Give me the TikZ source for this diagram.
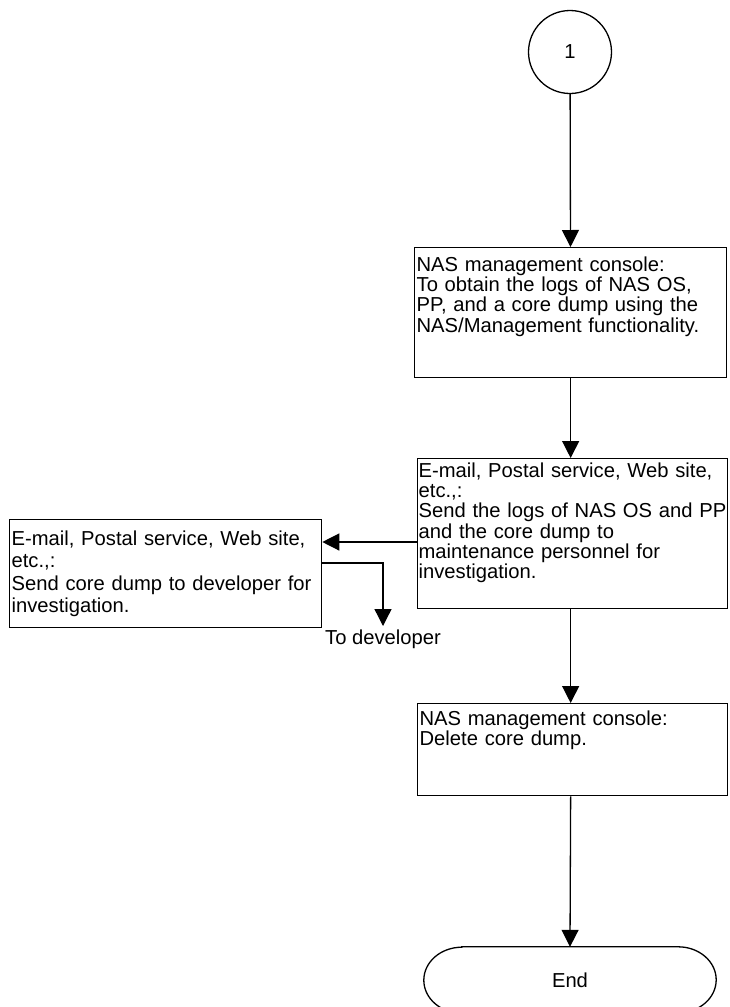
\documentclass[tikz,border=0pt]{standalone}
\usepackage{fontspec}
\setmainfont{Liberation Sans}
\usetikzlibrary{arrows.meta}
\tikzset{
  caja/.style={draw, line width=1.3pt, inner xsep=2pt, inner ysep=0pt, align=left, anchor=north west},
  flecha/.style={line width=1.3pt, -{Triangle[length=17pt,width=17pt]}},
}
\begin{document}
\begin{tikzpicture}[x=1pt, y=1pt, font=\fontsize{20.2}{20.3}\selectfont]
    \useasboundingbox (0,0) rectangle (730,-1007);
    % Conector inicial
    \node[draw, circle, line width=1.3pt, minimum size=83pt, inner sep=0pt] (uno) at (570,-52) {1};
    % Cajas
    \node[caja, text width=308pt, text height=23.7pt, text depth=106.3pt] (consola) at (414,-247)
        {NAS management console:\\To obtain the logs of NAS OS,\\PP, and a core dump using the\\NAS/Management functionality.};
    \node[caja, inner xsep=1pt, text width=308pt, text height=18.7pt, text depth=131.3pt] (envio) at (417,-458)
        {E-mail, Postal service, Web site,\\etc.,:\\\mbox{Send the logs of NAS OS and PP}\\and the core dump to\\maintenance personnel for\\investigation.};
    \node[caja, text width=308pt, text height=26pt, text depth=82pt, font=\fontsize{20.2}{22.3}\selectfont] (desarrollo) at (9,-519)
        {E-mail, Postal service, Web site,\\etc.,:\\\mbox{Send core dump to developer for}\\investigation.};
    \node[caja, text width=306pt, text height=22pt, text depth=70pt] (borrado) at (417,-703)
        {NAS management console:\\Delete core dump.};
    \node[inner xsep=0pt, inner ysep=4pt, anchor=north] (destino) at (383,-626) {To developer};
    % Terminal
    \node[minimum width=292pt, minimum height=66pt, inner sep=0pt] (fin) at (570,-980) {End};
    \draw[line width=1.3pt] ([xshift=38pt]fin.north west) -- ([xshift=-38pt]fin.north east)
        arc[start angle=90, end angle=-90, x radius=38pt, y radius=33pt]
        -- ([xshift=38pt]fin.south west)
        arc[start angle=270, end angle=90, x radius=38pt, y radius=33pt] -- cycle;
    % Flechas
    \draw[flecha] (uno) -- (consola);
    \draw[flecha] (consola.south) -- (consola.south |- envio.north);
    \draw[flecha] (envio.south -| consola.south) -- (consola.south |- borrado.north);
    \draw[flecha] (borrado.south -| consola.south) -- (fin.north);
    % Rama hacia el desarrollador
    \coordinate (bifurca) at (417,-542);
    \draw[flecha] (bifurca) -- (bifurca -| desarrollo.east);
    \coordinate (desvio) at (321,-563);
    \draw[flecha] (desvio) -| (destino.north);
\end{tikzpicture}
\end{document}
